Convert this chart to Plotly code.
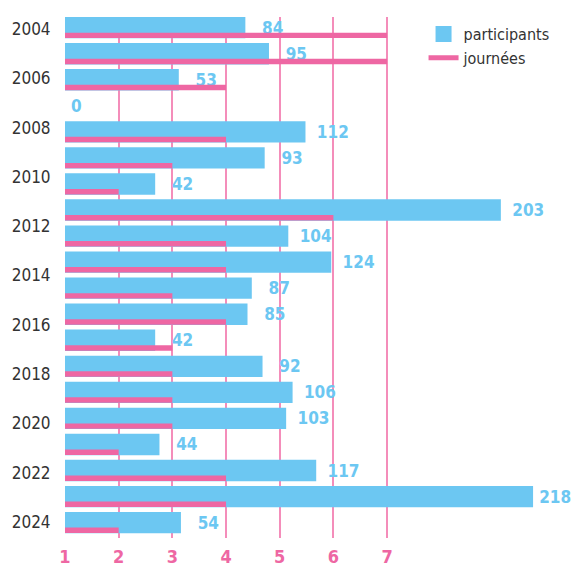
import plotly.graph_objects as go

# ---- data ----
years = [2004, 2005, 2006, 2007, 2008, 2009, 2010, 2011, 2012, 2013,
         2014, 2015, 2016, 2017, 2018, 2019, 2020, 2021, 2022, 2023]
participants = [84, 95, 53, 0, 112, 93, 42, 203, 104, 124,
                87, 85, 42, 92, 106, 103, 44, 117, 218, 54]
journees = [7, 7, 4, 0, 4, 3, 2, 6, 4, 4,
            3, 4, 3, 3, 3, 3, 2, 4, 4, 2]
year_ticks = [2004, 2006, 2008, 2010, 2012, 2014, 2016, 2018, 2020, 2022, 2024]
journee_ticks = [1, 2, 3, 4, 5, 6, 7]

# ---- style ----
BLUE = "#6cc7f2"
PINK = "#ee67a3"
GRID = "#f48dba"
FONT = "DejaVu Sans Condensed, DejaVu Sans, sans-serif"
NB = "\u00a0"      # no-break space
NN = "\u202f"      # narrow no-break space
pad_by_digits = {1: NN, 2: NB + NB + NN, 3: NB + NN}
p_top = max(participants)
labels = [(NN if v == p_top else pad_by_digits[len(str(v))]) + str(v)
          for v in participants]

P_MAX = 235.2          # participants axis extent
RATIO = 25             # participants per journee unit on the drawing

fig = go.Figure()

fig.add_trace(go.Bar(
    y=years, x=participants, orientation="h",
    xaxis="x", yaxis="y",
    marker=dict(color=BLUE, line=dict(width=0)),
    width=0.82, offset=-0.5,
    text=labels, textposition="outside", cliponaxis=False,
    constraintext="none",
    textfont=dict(family=FONT, size=17, color=BLUE, weight="bold"),
    showlegend=False, hoverinfo="x+y", name="participants",
))

fig.add_trace(go.Bar(
    y=years, x=journees, orientation="h",
    xaxis="x2", yaxis="y",
    marker=dict(color=PINK, line=dict(width=0)),
    width=0.21, offset=0.1,
    showlegend=False, name="journées",
))

# legend-only entries (also anchor the year-label axis)
fig.add_trace(go.Scatter(
    x=[None], y=[None], mode="markers", name="participants",
    marker=dict(symbol="square", size=20, color=BLUE),
    xaxis="x", yaxis="y2",
))
fig.add_trace(go.Scatter(
    x=[None], y=[None], mode="lines", name="journées",
    line=dict(color=PINK, width=5),
    xaxis="x", yaxis="y2",
))

fig.update_layout(
    width=573, height=570,
    margin=dict(l=65, r=3, t=17, b=29),
    paper_bgcolor="white", plot_bgcolor="white",
    barmode="overlay",
    font=dict(family=FONT, color="#333333"),
    xaxis=dict(range=[0, P_MAX], visible=False, showgrid=False, zeroline=False),
    xaxis2=dict(
        overlaying="x", side="bottom", anchor="y",
        range=[1, 1 + P_MAX / RATIO],
        tickmode="array", tickvals=journee_ticks,
        ticktext=[str(t) for t in journee_ticks],
        showgrid=True, gridcolor=GRID, gridwidth=1.5,
        zeroline=False, showline=False, ticks="outside", ticklen=2,
        tickcolor="rgba(0,0,0,0)",
        tickfont=dict(family=FONT, size=18, color=PINK, weight="bold"),
    ),
    yaxis=dict(range=[2023.5, 2003.5], visible=False, showgrid=False, zeroline=False),
    yaxis2=dict(
        overlaying="y", anchor="x", side="left",
        range=[2024.645, 2003.516],
        tickmode="array", tickvals=year_ticks,
        ticktext=[str(t) for t in year_ticks],
        showgrid=False, zeroline=False, showline=False,
        ticks="outside", ticklen=10, tickcolor="rgba(0,0,0,0)",
        tickfont=dict(family=FONT, size=17, color="#333333"),
    ),
    legend=dict(
        x=0.71, y=1.0, xanchor="left", yanchor="top",
        bgcolor="rgba(0,0,0,0)", borderwidth=0,
        font=dict(family=FONT, size=16, color="#333333"),
        itemsizing="trace", tracegroupgap=0,
    ),
)

fig.write_html("out.html", config={"displayModeBar": False},
               post_script="document.body.style.margin='0px';")
